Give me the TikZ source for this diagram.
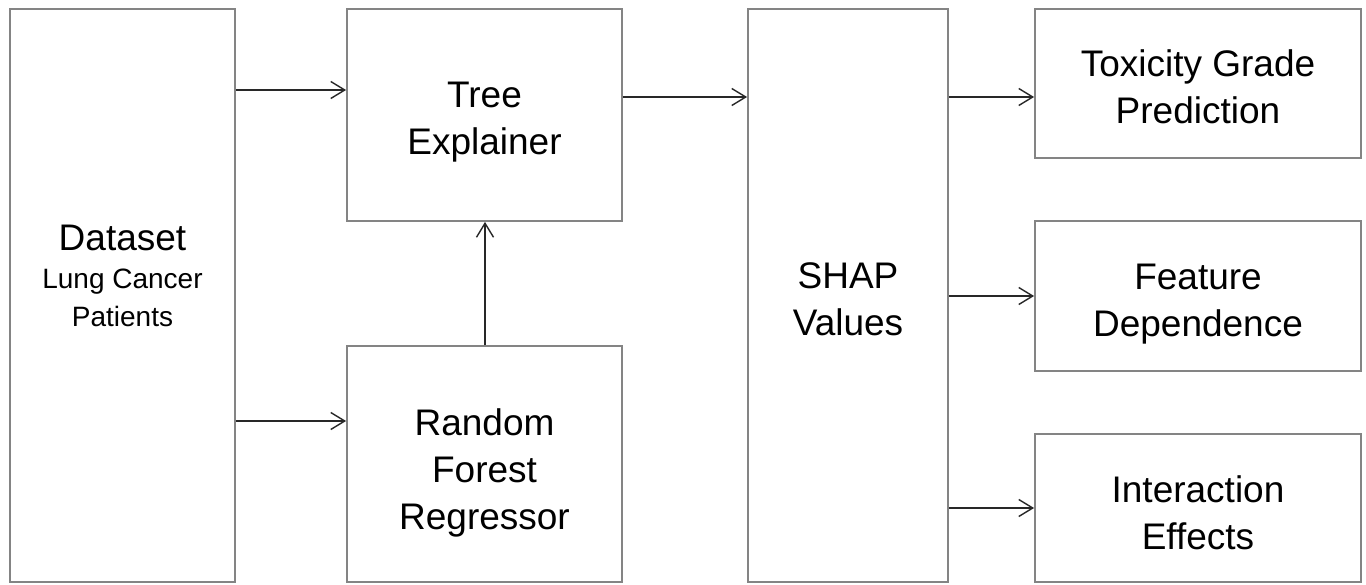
\documentclass[tikz,border=0pt]{standalone}
\usepackage{fontspec}
\setmainfont{Liberation Sans}
\usetikzlibrary{arrows.meta}
\definecolor{boxgray}{RGB}{132,132,132}
\definecolor{linedark}{RGB}{40,40,40}
\begin{document}
\begin{tikzpicture}[x=1pt,y=-1pt,
  box/.style={draw=boxgray, line width=1.8pt, inner sep=0pt},
  txt/.style={inner sep=0pt, align=center, font=\fontsize{37}{47}\selectfont},
  arr/.style={draw=linedark, line width=1.4pt,
    -{Straight Barb[length=14pt,width=17pt,line width=1.4pt]}}]
  % canvas
  \fill[white] (0,0) rectangle (1366,584);
  \useasboundingbox (0,0) rectangle (1366,584);

  % boxes, each with its caption set a little below the centre
  \node[box, minimum width=225pt, minimum height=573pt] (data) at (122.5,295.5) {};
  \node[inner sep=0pt, align=center, font=\fontsize{28}{38}\selectfont] (datatxt) at (122.5,276)
    {{\fontsize{37}{38}\selectfont Dataset}\\Lung Cancer\\Patients};
  \node[box, minimum width=275pt, minimum height=212pt,
    label={[txt,yshift=-7pt]center:{Tree\\Explainer}}] (tree) at (484.5,115) {};
  \node[box, minimum width=275pt, minimum height=236pt,
    label={[txt,yshift=-9pt]center:{Random\\Forest\\Regressor}}] (rf) at (484.5,464) {};
  \node[box, minimum width=200pt, minimum height=573pt,
    label={[txt,yshift=-4pt]center:{SHAP\\Values}}] (shap) at (848,295.5) {};
  \node[box, minimum width=326pt, minimum height=149pt,
    label={[txt,yshift=-3pt]center:{Toxicity Grade\\Prediction}}] (tox) at (1198,83.5) {};
  \node[box, minimum width=326pt, minimum height=150pt,
    label={[txt,yshift=-8pt]center:{Feature\\Dependence}}] (feat) at (1198,296) {};
  \node[box, minimum width=326pt, minimum height=148pt,
    label={[txt,yshift=-5pt]center:{Interaction\\Effects}}] (inter) at (1198,508) {};

  % connector heights
  \coordinate (yA) at (0,90);
  \coordinate (yB) at (0,421);
  \coordinate (yC) at (0,97);
  \coordinate (xD) at (485,0);

  % connectors
  \draw[arr] (data.east |- yA) -- (tree.west |- yA);
  \draw[arr] (data.east |- yB) -- (rf.west |- yB);
  \draw[arr] (xD |- rf.north) -- (xD |- tree.south);
  \draw[arr] (tree.east |- yC) -- (shap.west |- yC);
  \draw[arr] (shap.east |- yC) -- (tox.west |- yC);
  \draw[arr] (shap.east |- feat.west) -- (feat.west);
  \draw[arr] (shap.east |- inter.west) -- (inter.west);
\end{tikzpicture}
\end{document}
